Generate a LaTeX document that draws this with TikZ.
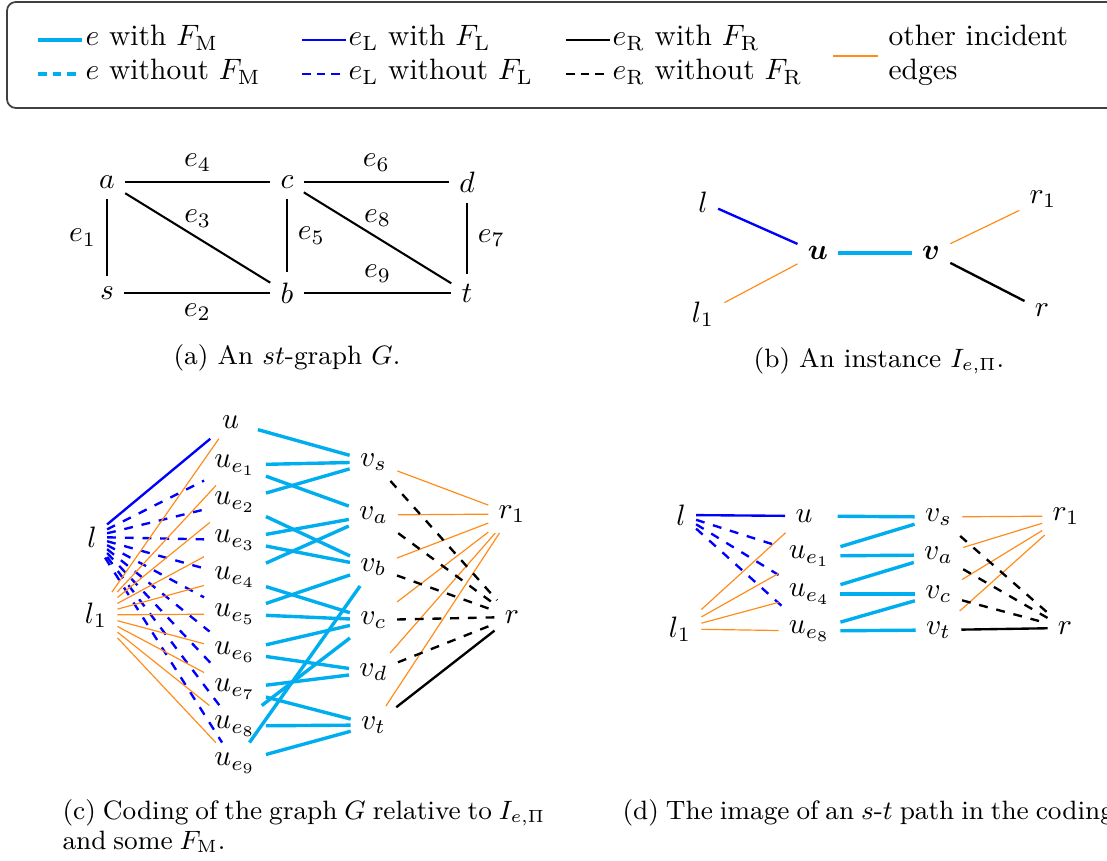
\documentclass[tikz,border=0pt]{standalone}
\usepackage{bm}
\definecolor{ecyan}{RGB}{0,174,239}
\definecolor{eblue}{RGB}{0,0,255}
\definecolor{eorange}{RGB}{255,140,26}
\begin{document}
\begin{tikzpicture}[x=0.339pt,y=-0.339pt,
  edgeM/.style={draw=ecyan,line width=1.15pt},
  edgeL/.style={draw=eblue,line width=0.8pt},
  edgeLd/.style={edgeL,dashed},
  edgeR/.style={draw=black,line width=0.8pt},
  edgeRd/.style={edgeR,dashed},
  other/.style={draw=eorange,line width=0.4pt},
  gedge/.style={draw=black,line width=0.7pt},
  legdash/.style={dash pattern=on 3pt off 1.95pt},
  captxt/.style={font=\fontsize{9}{10.5}\selectfont},
  captight/.style={captxt,inner sep=0pt,anchor=base west,
    execute at begin node={\spaceskip=2.35pt plus 1pt\relax}},
  legtxt/.style={anchor=base west,inner sep=0pt}
]
\useasboundingbox (0,0) rectangle (1107,861);

% ---------------- legend ----------------
\draw[draw=black!75,line width=0.6pt,rounded corners=3pt] (7,2) rectangle (1125,108);
\coordinate (m1a) at (38,40); \coordinate (m1b) at (82,40);
\coordinate (m2a) at (38,74); \coordinate (m2b) at (76.5,74);
\coordinate (l1a) at (302,40); \coordinate (l1b) at (346,40);
\coordinate (l2a) at (302,74); \coordinate (l2b) at (340.5,74);
\coordinate (r1a) at (566,40); \coordinate (r1b) at (610,40);
\coordinate (r2a) at (566,74); \coordinate (r2b) at (604.5,74);
\coordinate (o1a) at (833,56); \coordinate (o1b) at (878,56);
\draw[edgeM] (m1a) -- (m1b);
\draw[edgeM,legdash] (m2a) -- (m2b);
\draw[edgeL] (l1a) -- (l1b);
\draw[edgeL,legdash] (l2a) -- (l2b);
\draw[edgeR] (r1a) -- (r1b);
\draw[edgeR,legdash] (r2a) -- (r2b);
\draw[other] (o1a) -- (o1b);
\node[legtxt] (t1) at (85,46) {$e$ with $F_{\mathrm{M}}$};
\node[legtxt] (t2) at (85,80) {$e$ without $F_{\mathrm{M}}$};
\node[legtxt] (t3) at (348,46) {$e_{\mathrm{L}}$ with $F_{\mathrm{L}}$};
\node[legtxt] (t4) at (348,80) {$e_{\mathrm{L}}$ without $F_{\mathrm{L}}$};
\node[legtxt] (t5) at (612,46) {$e_{\mathrm{R}}$ with $F_{\mathrm{R}}$};
\node[legtxt] (t6) at (612,80) {$e_{\mathrm{R}}$ without $F_{\mathrm{R}}$};
\node[legtxt] (t7) at (888,46) {other incident};
\node[legtxt] (t8) at (888,80) {edges};

% ---------------- (a) ----------------
\node (a) at (107,182) {$a$};
\node (c) at (287,182) {$c$};
\node (d) at (467,182) {$d$};
\node (s) at (107,293) {$s$};
\node (b) at (287,293) {$b$};
\node (t) at (467,293) {$t$};
\draw[gedge] (a) -- node[above] {$e_4$} (c);
\draw[gedge] (c) -- node[above] {$e_6$} (d);
\draw[gedge] (a) -- node[left] {$e_1$} (s);
\draw[gedge] (a) -- node[above] {$e_3$} (b);
\draw[gedge] (c) -- node[right] {$e_5$} (b);
\draw[gedge] (c) -- node[above] {$e_8$} (t);
\draw[gedge] (d) -- node[right] {$e_7$} (t);
\draw[gedge] (s) -- node[below] {$e_2$} (b);
\draw[gedge] (b) -- node[above] {$e_9$} (t);
\node[captxt,anchor=base] (capa) at (287,365) {(a) An $st$-graph $G$.};

% ---------------- (b) ----------------
\node (bl) at (703,202) {$l$};
\node (bl1) at (703,314) {$l_1$};
\node (bu) at (818,253) {$\bm{u}$};
\node (bv) at (931,253) {$\bm{v}$};
\node (br1) at (1043,199) {$r_1$};
\node (br) at (1042,310) {$r$};
\draw[edgeL] (bl) -- (bu);
\draw[other] (bl1) -- (bu);
\draw[edgeM] (bu) -- (bv);
\draw[other] (bv) -- (br1);
\draw[edgeR] (bv) -- (br);
\node[captxt,anchor=base] (capb) at (879,368) {(b) An instance $I_{e,\Pi}$.};

% ---------------- (c) ----------------
\node (cl) at (92,537) {$l$};
\node (cl1) at (96,615) {$l_1$};
\node[minimum width=18.2pt] (cu) at (230.5,422) {$u$};
\node (ue1) at (235,465) {$u_{e_1}$};
\node (ue2) at (235,502) {$u_{e_2}$};
\node (ue3) at (235,540) {$u_{e_3}$};
\node (ue4) at (235,577) {$u_{e_4}$};
\node (ue5) at (235,614) {$u_{e_5}$};
\node (ue6) at (235,652) {$u_{e_6}$};
\node (ue7) at (235,689) {$u_{e_7}$};
\node (ue8) at (235,726) {$u_{e_8}$};
\node (ue9) at (235,763) {$u_{e_9}$};
\node (vs) at (373.5,462) {$v_s$};
\node (va) at (373.5,515) {$v_a$};
\node (vb) at (373.5,567) {$v_b$};
\node (vc) at (373.5,620) {$v_c$};
\node (vd) at (373.5,672) {$v_d$};
\node (vt) at (373.5,725) {$v_t$};
\node (cr1) at (512,514) {$r_1$};
\node (cr) at (512,617) {$r$};

\draw[edgeL] (cl) -- (cu);
\foreach \i in {1,...,9} {\draw[edgeLd] (cl) -- (ue\i);}
\foreach \n in {cu,ue1,ue2,ue3,ue4,ue5,ue6,ue7,ue8,ue9} {\draw[other] (cl1) -- (\n);}

\draw[edgeM] (cu) -- (vs);
\draw[edgeM] (ue1) -- (vs);
\draw[edgeM] (ue1) -- (va);
\draw[edgeM] (ue2) -- (vs);
\draw[edgeM] (ue2) -- (vb);
\draw[edgeM] (ue3) -- (va);
\draw[edgeM] (ue3) -- (vb);
\draw[edgeM] (ue4) -- (va);
\draw[edgeM] (ue4) -- (vc);
\draw[edgeM] (ue5) -- (vb);
\draw[edgeM] (ue5) -- (vc);
\draw[edgeM] (ue6) -- (vc);
\draw[edgeM] (ue6) -- (vd);
\draw[edgeM] (ue7) -- (vd);
\draw[edgeM] (ue7) -- (vt);
\draw[edgeM] (ue8) -- (vc);
\draw[edgeM] (ue8) -- (vt);
\draw[edgeM] (ue9) -- (vb);
\draw[edgeM] (ue9) -- (vt);

\foreach \n in {vs,va,vb,vc,vd,vt} {\draw[other] (\n) -- (cr1);}
\foreach \n in {vs,va,vb,vc,vd} {\draw[edgeRd] (\n) -- (cr);}
\draw[edgeR] (vt) -- (cr);

\node[captight] (capc1) at (62,820) {(c) Coding of the graph $G$ relative to $I_{e,\Pi}$};
\node[captight] (capc2) at (62,850) {and some $F_{\mathrm{M}}$.};

% ---------------- (d) ----------------
\node (dl) at (681,515) {$l$};
\node (dl1) at (680,629) {$l_1$};
\node (du) at (804,516) {$u$};
\node (due1) at (809.5,556) {$u_{e_1}$};
\node (due4) at (809.5,594) {$u_{e_4}$};
\node (due8) at (809.5,631) {$u_{e_8}$};
\node (dvs) at (938.5,517) {$v_s$};
\node (dva) at (938.5,555) {$v_a$};
\node (dvc) at (938.5,594) {$v_c$};
\node (dvt) at (938.5,630) {$v_t$};
\node (dr1) at (1066,516) {$r_1$};
\node (dr) at (1065,628) {$r$};

\draw[edgeL] (dl) -- (du);
\draw[edgeLd] (dl) -- (due1);
\draw[edgeLd] (dl) -- (due4);
\draw[edgeLd] (dl) -- (due8);
\draw[other] (dl1) -- (du);
\draw[other] (dl1) -- (due1);
\draw[other] (dl1) -- (due4);
\draw[other] (dl1) -- (due8);

\draw[edgeM,shorten <=5pt] (du) -- (dvs);
\draw[edgeM] (due1) -- (dvs);
\draw[edgeM] (due1) -- (dva);
\draw[edgeM] (due4) -- (dva);
\draw[edgeM] (due4) -- (dvc);
\draw[edgeM] (due8) -- (dvc);
\draw[edgeM] (due8) -- (dvt);

\draw[other] (dvs) -- (dr1);
\draw[other] (dva) -- (dr1);
\draw[other] (dvc) -- (dr1);
\draw[other] (dvt) -- (dr1);
\draw[edgeRd] (dvs) -- (dr);
\draw[edgeRd] (dva) -- (dr);
\draw[edgeRd] (dvc) -- (dr);
\draw[edgeR] (dvt) -- (dr);

\node[captight] (capd) at (622,820) {(d) The image of an $s$-$t$ path in the coding};
\end{tikzpicture}
\end{document}
